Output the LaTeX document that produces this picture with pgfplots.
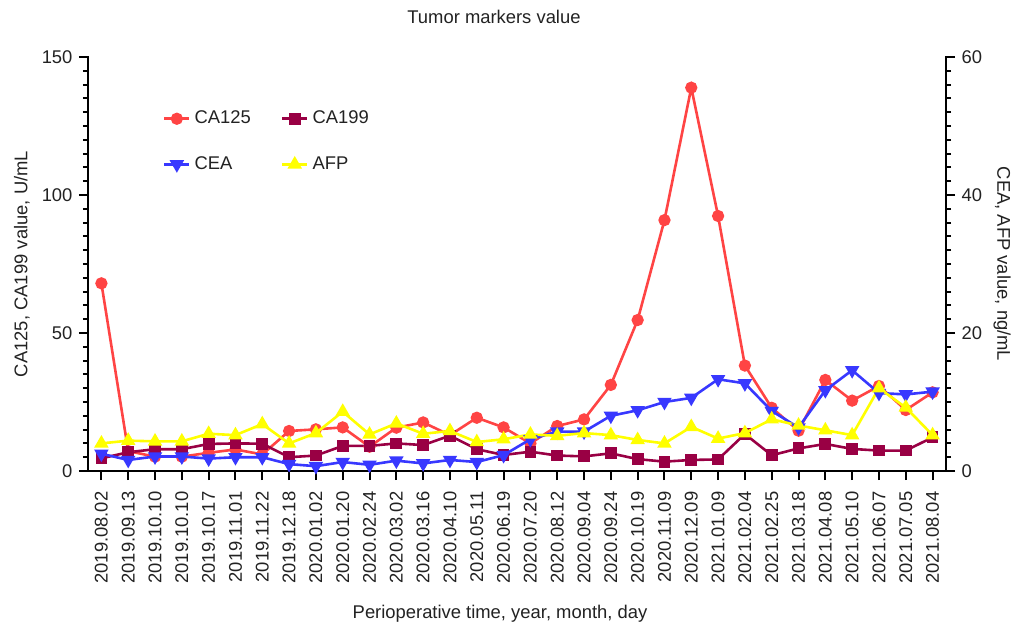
\documentclass[border=0pt]{standalone}
\usepackage{fontspec}
\setmainfont{Liberation Sans}
\usepackage{pgfplots}
\pgfplotsset{compat=1.18}
\definecolor{cRed}{RGB}{255,68,68}
\definecolor{cMar}{RGB}{153,0,68}
\definecolor{cBlue}{RGB}{56,56,255}
\definecolor{cYel}{RGB}{255,255,0}
\definecolor{txt}{RGB}{34,34,34}
\begin{document}
\fontsize{9.2}{11}\selectfont
\begin{tikzpicture}
\useasboundingbox (-44pt,-76pt) rectangle (462.5pt,235.5pt);
\pgfplotsset{
  every axis/.append style={
    scale only axis, width=429pt, height=207pt,
    xmin=-0.5, xmax=31.5,
    at={(0,0)}, anchor=south west,
    clip=false,
    tick align=outside,
    major tick length=4.5pt, minor tick length=2.5pt,
    every tick/.style={black, line width=1pt},
    axis line style={black, line width=1.2pt},
    /pgf/number format/assume math mode=true,
    tick label style={font=\fontsize{9.2}{11}\selectfont, text=txt},
  },
}
\begin{axis}[
  xtick pos=left, ytick pos=left,
  ymin=0, ymax=150, ytick={0,50,100,150}, minor y tick num=9,
  xtick={0,...,31},
  xticklabels={2019.08.02,2019.09.13,2019.10.10,2019.10.10,2019.10.17,2019.11.01,2019.11.22,2019.12.18,2020.01.02,2020.01.20,2020.02.24,2020.03.02,2020.03.16,2020.04.10,2020.05.11,2020.06.19,2020.07.20,2020.08.12,2020.09.04,2020.09.24,2020.10.19,2020.11.09,2020.12.09,2021.01.09,2021.02.04,2021.02.25,2021.03.18,2021.04.08,2021.05.10,2021.06.07,2021.07.05,2021.08.04},
  xticklabel style={yshift=-2.5pt, rotate=90, anchor=east},
]
% CA125
\addplot[color=cRed, line width=1.3pt, mark=*, mark size=2.4pt, mark options={fill=cRed, draw=cRed}] coordinates {
(0,68) (1,7.2) (2,5.2) (3,5.2) (4,6.6) (5,7.8) (6,6.0) (7,14.5) (8,15.1) (9,15.8)
(10,8.8) (11,15.7) (12,17.6) (13,13.0) (14,19.3) (15,15.8) (16,10.0) (17,16.3) (18,18.7) (19,31.2)
(20,54.7) (21,90.9) (22,138.9) (23,92.4) (24,38.2) (25,22.9) (26,14.6) (27,33.0) (28,25.5) (29,30.8)
(30,22.1) (31,28.5)};
% CA199
\addplot[color=cMar, line width=1.3pt, mark=square*, mark size=2.3pt, mark options={fill=cMar, draw=cMar}] coordinates {
(0,4.6) (1,6.8) (2,7.9) (3,7.9) (4,9.8) (5,10.0) (6,9.9) (7,5.0) (8,5.6) (9,9.1)
(10,9.1) (11,10.0) (12,9.4) (13,12.8) (14,7.9) (15,5.8) (16,7.0) (17,5.6) (18,5.3) (19,6.4)
(20,4.3) (21,3.4) (22,4.0) (23,4.2) (24,13.4) (25,5.7) (26,8.2) (27,9.8) (28,8.0) (29,7.4)
(30,7.4) (31,12.2)};
\end{axis}
\begin{axis}[
  hide x axis,
  ytick pos=right,
  ymin=0, ymax=60, ytick={0,20,40,60}, minor y tick num=9,
  legend columns=2,
  legend style={at={(0.08,0.89)}, anchor=north west, draw=none, fill=none,
    font=\fontsize{9.2}{11}\selectfont, text=txt, row sep=11pt,
    /tikz/every even column/.append style={column sep=13pt}},
  legend cell align=left,
  legend image code/.code={\draw[mark repeat=2,mark phase=2] plot coordinates {(0cm,0cm)(0.22cm,0cm)(0.44cm,0cm)};},
]
\addlegendimage{color=cRed, line width=1.3pt, mark=*, mark size=2.4pt, mark options={fill=cRed, draw=cRed}}
\addlegendentry{CA125}
\addlegendimage{color=cMar, line width=1.3pt, mark=square*, mark size=2.3pt, mark options={fill=cMar, draw=cMar}}
\addlegendentry{CA199}
% CEA
\addplot[color=cBlue, line width=1.3pt, mark=triangle*, mark size=2.9pt, mark options={rotate=180, fill=cBlue, draw=cBlue}] coordinates {
(0,2.5) (1,1.6) (2,2.1) (3,2.1) (4,1.8) (5,2.0) (6,2.0) (7,1.0) (8,0.7) (9,1.3)
(10,0.9) (11,1.5) (12,1.1) (13,1.6) (14,1.3) (15,2.3) (16,4.6) (17,5.7) (18,5.7) (19,8.0)
(20,8.8) (21,10.0) (22,10.6) (23,13.3) (24,12.7) (25,8.7) (26,6.3) (27,11.7) (28,14.6) (29,11.3)
(30,11.1) (31,11.5)};
\addlegendentry{CEA}
% AFP
\addplot[color=cYel, line width=1.3pt, mark=triangle*, mark size=2.9pt, mark options={fill=cYel, draw=cYel}] coordinates {
(0,4.0) (1,4.4) (2,4.3) (3,4.3) (4,5.4) (5,5.2) (6,6.8) (7,4.0) (8,5.5) (9,8.6)
(10,5.3) (11,6.9) (12,5.4) (13,5.8) (14,4.2) (15,4.6) (16,5.3) (17,5.1) (18,5.5) (19,5.2)
(20,4.5) (21,4.0) (22,6.4) (23,4.7) (24,5.5) (25,7.5) (26,6.6) (27,5.9) (28,5.2) (29,12.0)
(30,9.2) (31,5.2)};
\addlegendentry{AFP}
\end{axis}
% remove the top frame line (the reference has no top axis line)
\draw[white, line width=1.8pt] (0.7pt,207pt) -- (428.3pt,207pt);
\node[text=txt] at (203pt,227pt) {Tumor markers value};
\node[text=txt] at (206pt,-71.5pt) {Perioperative time, year, month, day};
\node[text=txt, rotate=90] at (-33pt,103.5pt) {CA125, CA199 value, U/mL};
\node[text=txt, rotate=-90] at (457pt,103.5pt) {CEA, AFP value, ng/mL};
\end{tikzpicture}
\end{document}
